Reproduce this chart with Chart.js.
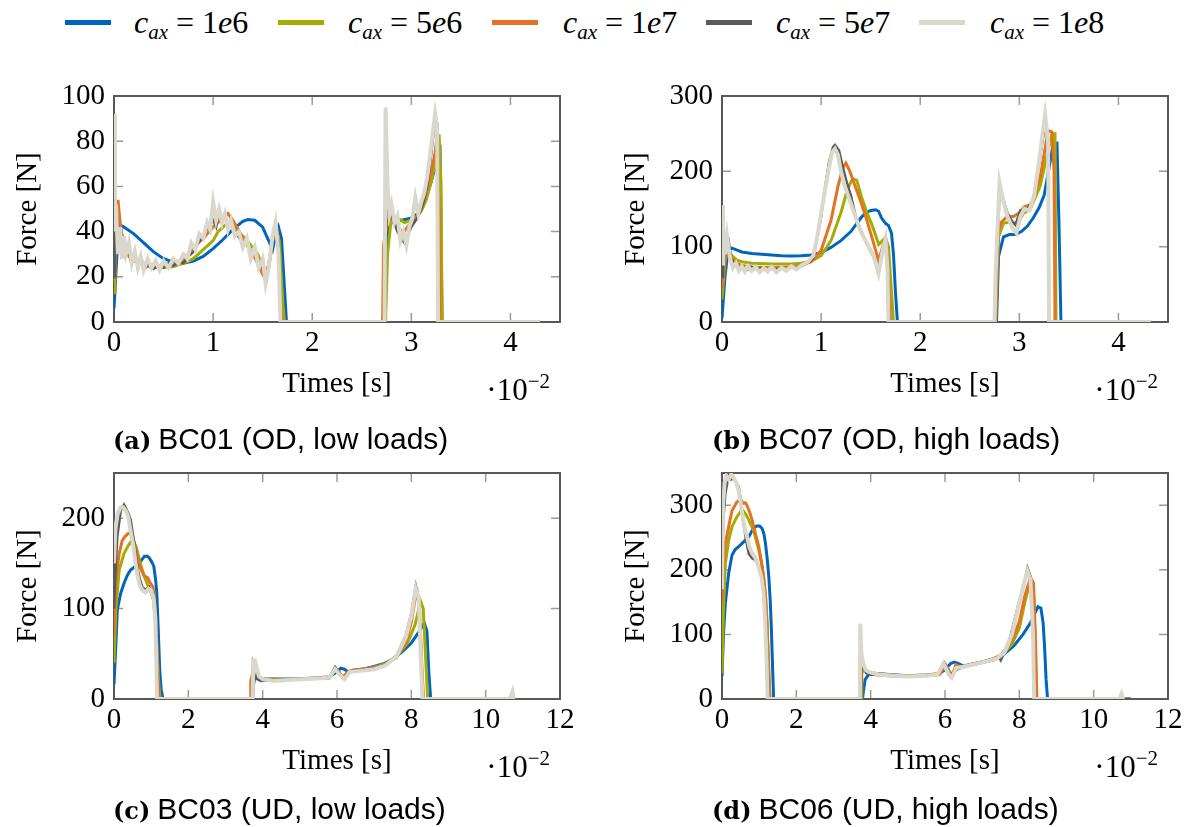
<!DOCTYPE html>
<html>
<head>
<meta charset="utf-8">
<script src="https://cdn.jsdelivr.net/npm/chart.js@4.4.0/dist/chart.umd.min.js"></script>
<style>
  body { margin: 0; width: 1189px; height: 827px; background: #fff; position: relative; overflow: hidden; }
  canvas { position: absolute; }
  .bar { position: absolute; top: 20px; width: 46px; height: 5px; }
  .key { position: absolute; top: 6px; font: italic 32px/32px "Liberation Serif", serif; color: #000; white-space: nowrap; }
  .key sub { font-size: 21px; vertical-align: -6px; line-height: 0; }
  .key .up { font-style: normal; }
  .cap { position: absolute; font: 30px/30px "Liberation Sans", sans-serif; color: #000; white-space: nowrap; }
  .cap b { font: bold 24px "DejaVu Serif", serif; margin-right: 7px; }
</style>
</head>
<body>

<div class="bar" style="left:65px;background:#0065BD"></div>
<div class="key" style="left:134px">c<sub>ax</sub> <span class="up">= 1</span>e<span class="up">6</span></div>
<div class="bar" style="left:278px;background:#A2AD00"></div>
<div class="key" style="left:348px">c<sub>ax</sub> <span class="up">= 5</span>e<span class="up">6</span></div>
<div class="bar" style="left:492px;background:#E37222"></div>
<div class="key" style="left:563px">c<sub>ax</sub> <span class="up">= 1</span>e<span class="up">7</span></div>
<div class="bar" style="left:706px;background:#5A5A5A"></div>
<div class="key" style="left:776px">c<sub>ax</sub> <span class="up">= 5</span>e<span class="up">7</span></div>
<div class="bar" style="left:919px;background:#DAD7CB"></div>
<div class="key" style="left:990px">c<sub>ax</sub> <span class="up">= 1</span>e<span class="up">8</span></div>

<canvas id="bc01" width="582" height="360" style="left:0px;top:60px"></canvas>
<canvas id="bc07" width="582" height="360" style="left:608px;top:60px"></canvas>
<canvas id="bc03" width="582" height="360" style="left:0px;top:437px"></canvas>
<canvas id="bc06" width="582" height="360" style="left:608px;top:437px"></canvas>

<div class="cap" style="left:113px;top:424px"><b>(a)</b>BC01 (OD, low loads)</div>
<div class="cap" style="left:712px;top:424px"><b>(b)</b>BC07 (OD, high loads)</div>
<div class="cap" style="left:113px;top:794px"><b>(c)</b>BC03 (UD, low loads)</div>
<div class="cap" style="left:712px;top:794px"><b>(d)</b>BC06 (UD, high loads)</div>

<script>
// time in 1e-2 s, force in N
const labels = ['c_ax = 1e6', 'c_ax = 5e6', 'c_ax = 1e7', 'c_ax = 5e7', 'c_ax = 1e8'];
const colors = ['#0065BD', '#A2AD00', '#E37222', '#5A5A5A', '#DAD7CB'];
const widths = [3, 3, 3, 2.5, 4];

// BC01 (OD, low loads)
const bc01_1e6 = [[0,6],[0.03,30],[0.06,43],[0.1,42],[0.2,39],[0.3,35],[0.4,31],[0.5,28],[0.6,26.5],[0.7,26],[0.8,27],[0.9,29],[1.0,32.5],[1.1,36.5],[1.2,41],[1.3,44.5],[1.35,45.3],[1.42,45],[1.5,42],[1.56,36],[1.6,32],[1.63,38],[1.66,42],[1.69,37],[1.72,15],[1.74,0],[2.7,0],[2.72,2],[2.76,40],[2.8,44],[2.85,44.5],[2.9,45],[2.95,45.5],[3.0,46],[3.05,47.5],[3.1,50],[3.15,55],[3.2,62],[3.25,70],[3.29,75],[3.3,40],[3.31,0],[4.3,0]];
const bc01_5e6 = [[0,13],[0.01,20],[0.02,52],[0.05,40],[0.08,38],[0.1,35],[0.15,30],[0.2,28],[0.3,26],[0.4,24.5],[0.5,24],[0.6,24.5],[0.7,26],[0.8,28],[0.9,32],[1.0,36],[1.05,40],[1.1,42],[1.15,44],[1.2,42],[1.3,38],[1.4,33],[1.45,30],[1.5,25],[1.53,22],[1.56,25],[1.6,36],[1.64,41],[1.67,35],[1.7,10],[1.72,0],[2.74,0],[2.76,30],[2.8,47],[2.85,46],[2.9,45],[2.93,44],[3.0,45],[3.05,46.5],[3.1,49],[3.15,54],[3.2,62],[3.25,72],[3.28,83],[3.3,60],[3.31,0],[4.3,0]];
const bc01_1e7 = [[0,20],[0.01,40],[0.04,54],[0.06,45],[0.08,38],[0.1,35],[0.15,29],[0.2,27],[0.3,25],[0.4,24],[0.5,24.5],[0.6,25],[0.7,27],[0.75,30],[0.8,33],[0.9,37],[1.0,42],[1.05,44],[1.1,46],[1.15,48],[1.2,45],[1.25,41],[1.3,37],[1.4,30],[1.45,26],[1.5,21],[1.53,19],[1.57,28],[1.6,37],[1.63,42],[1.66,36],[1.68,10],[1.7,0],[2.71,0],[2.72,34],[2.76,45],[2.8,46],[2.84,43],[2.88,41],[2.92,39.5],[2.96,42],[3.0,44],[3.05,46],[3.1,50],[3.15,57],[3.2,66],[3.24,75],[3.26,82],[3.28,50],[3.29,0],[4.3,0]];
const bc01_5e7 = [[0,20],[0.01,50],[0.02,35],[0.03,48],[0.05,38],[0.07,31],[0.09,36],[0.11,30],[0.14,33],[0.17,27],[0.2,29],[0.24,25],[0.28,27],[0.32,24],[0.36,26],[0.4,23.5],[0.45,25],[0.5,24],[0.55,26],[0.6,25],[0.65,27],[0.7,26],[0.75,29],[0.8,31],[0.85,35],[0.9,38],[0.95,42],[1.0,45],[1.03,42],[1.06,49],[1.09,44],[1.12,47],[1.15,43],[1.18,45],[1.21,40],[1.25,38],[1.3,35],[1.34,36],[1.38,30],[1.42,31],[1.46,26],[1.5,24],[1.53,19],[1.56,23],[1.6,35],[1.63,43],[1.66,33],[1.68,5],[1.69,0],[2.73,0],[2.75,50],[2.78,48],[2.82,45],[2.86,40],[2.9,37],[2.93,35],[2.96,38],[3.0,42],[3.03,44],[3.06,46],[3.1,50],[3.13,54],[3.16,60],[3.19,70],[3.22,82],[3.24,91],[3.26,88],[3.27,0],[4.3,0]];
const bc01_1e8 = [[0,92],[0.01,40],[0.02,52],[0.04,30],[0.06,42],[0.08,28],[0.1,38],[0.12,30],[0.15,35],[0.18,26],[0.21,31],[0.24,24],[0.27,29],[0.3,23],[0.34,28],[0.38,24],[0.42,27],[0.46,23],[0.5,27],[0.55,24],[0.6,28],[0.65,26],[0.7,30],[0.74,28],[0.78,35],[0.82,32],[0.86,39],[0.9,37],[0.94,44],[0.97,41],[1.0,53],[1.03,45],[1.06,50],[1.09,44],[1.12,48],[1.15,41],[1.18,45],[1.22,38],[1.26,40],[1.3,33],[1.34,37],[1.38,28],[1.42,33],[1.46,24],[1.5,28],[1.53,17],[1.56,24],[1.6,38],[1.63,44],[1.66,30],[1.68,0],[2.73,0],[2.74,95],[2.76,60],[2.78,48],[2.8,52],[2.83,44],[2.86,47],[2.89,36],[2.92,40],[2.95,34],[2.98,42],[3.01,46],[3.04,55],[3.07,48],[3.1,53],[3.13,57],[3.16,64],[3.19,74],[3.22,85],[3.24,92],[3.26,86],[3.27,0],[4.3,0]];

// BC07 (OD, high loads)
const bc07_1e6 = [[0,5],[0.03,60],[0.06,95],[0.1,98],[0.2,93],[0.3,91],[0.4,90],[0.5,89],[0.6,88],[0.7,87.5],[0.8,88],[0.9,89],[1.0,92],[1.1,99],[1.2,108],[1.3,120],[1.4,138],[1.45,145],[1.5,148],[1.55,149],[1.58,147],[1.61,138],[1.65,131],[1.68,128],[1.71,118],[1.73,90],[1.75,40],[1.77,0],[2.77,0],[2.79,87],[2.84,113],[2.9,116],[2.96,116],[3.02,120],[3.08,127],[3.14,138],[3.2,152],[3.25,168],[3.29,197],[3.34,235],[3.38,237],[3.4,130],[3.42,0],[4.33,0]];
const bc07_5e6 = [[0,30],[0.03,80],[0.06,97],[0.1,88],[0.15,82],[0.2,80],[0.3,78],[0.5,77],[0.7,77],[0.8,78],[0.9,81],[1.0,88],[1.1,108],[1.2,145],[1.27,178],[1.32,190],[1.36,188],[1.41,165],[1.46,146],[1.51,130],[1.55,115],[1.58,103],[1.62,108],[1.65,112],[1.68,100],[1.71,40],[1.73,0],[2.76,0],[2.79,113],[2.84,131],[2.91,133],[2.98,130],[3.04,144],[3.11,150],[3.21,180],[3.28,222],[3.33,250],[3.36,250],[3.37,0],[4.33,0]];
const bc07_1e7 = [[0,45],[0.03,85],[0.06,100],[0.1,84],[0.15,78],[0.2,75],[0.3,73],[0.5,72],[0.7,73],[0.8,75],[0.9,80],[1.0,95],[1.1,135],[1.17,180],[1.22,205],[1.25,211],[1.29,200],[1.35,178],[1.4,160],[1.45,140],[1.5,118],[1.55,95],[1.58,81],[1.62,100],[1.65,111],[1.67,95],[1.69,30],[1.7,0],[2.76,0],[2.79,122],[2.82,133],[2.88,140],[2.94,140],[3.0,145],[3.05,153],[3.12,156],[3.21,192],[3.26,230],[3.29,254],[3.33,252],[3.35,200],[3.36,0],[4.33,0]];
const bc07_5e7 = [[0,60],[0.01,100],[0.02,80],[0.03,110],[0.05,95],[0.07,105],[0.09,85],[0.12,78],[0.16,74],[0.2,72],[0.25,69],[0.3,73],[0.35,70],[0.4,72],[0.45,68],[0.5,71],[0.55,70],[0.6,72],[0.65,69],[0.7,73],[0.75,72],[0.8,74],[0.86,78],[0.92,84],[0.97,118],[1.0,140],[1.04,179],[1.08,212],[1.12,232],[1.14,235],[1.18,228],[1.22,205],[1.26,185],[1.3,168],[1.35,140],[1.4,122],[1.45,107],[1.5,93],[1.54,85],[1.57,68],[1.6,85],[1.65,111],[1.67,80],[1.69,0],[2.75,0],[2.76,43],[2.8,170],[2.84,162],[2.88,145],[2.92,135],[2.96,129],[3.01,148],[3.07,148],[3.14,162],[3.21,219],[3.26,263],[3.29,237],[3.3,0],[4.33,0]];
const bc07_1e8 = [[0,155],[0.01,75],[0.02,108],[0.03,90],[0.05,115],[0.07,95],[0.09,80],[0.11,72],[0.14,78],[0.17,68],[0.2,74],[0.23,67],[0.26,74],[0.3,68],[0.34,73],[0.38,66],[0.42,72],[0.46,67],[0.5,73],[0.55,66],[0.6,72],[0.65,68],[0.7,74],[0.75,70],[0.8,75],[0.86,79],[0.92,88],[0.96,112],[1.0,145],[1.04,175],[1.08,205],[1.11,225],[1.14,230],[1.17,222],[1.2,200],[1.24,180],[1.28,165],[1.32,150],[1.36,135],[1.4,120],[1.44,110],[1.48,100],[1.52,90],[1.56,75],[1.58,65],[1.62,95],[1.65,110],[1.67,70],[1.68,0],[2.75,0],[2.76,60],[2.8,185],[2.84,160],[2.88,140],[2.93,125],[2.97,118],[3.01,140],[3.05,150],[3.1,148],[3.15,168],[3.21,225],[3.26,275],[3.29,240],[3.3,0],[4.33,0]];

// BC03 (UD, low loads)
const bc03_1e6 = [[0,16],[0.05,60],[0.09,99],[0.18,117],[0.27,128],[0.36,137],[0.45,143],[0.55,146],[0.64,148],[0.73,153],[0.82,158],[0.9,158],[0.95,156],[1.01,152],[1.07,147],[1.12,132],[1.15,118],[1.18,88],[1.21,55],[1.23,32],[1.27,10],[1.32,0],[3.73,0],[3.75,15],[3.8,27],[3.9,24],[4.0,22],[4.5,22],[5.0,22.5],[5.5,23.5],[5.8,24.5],[6.0,30],[6.1,34],[6.2,33],[6.3,30],[6.45,32],[6.7,33],[7.0,36],[7.25,39],[7.5,44],[7.75,52],[8.0,62],[8.2,74],[8.35,84],[8.42,75],[8.47,30],[8.52,0],[10.75,0]];
const bc03_5e6 = [[0,40],[0.05,99],[0.14,143],[0.27,161],[0.36,168],[0.45,174],[0.52,175],[0.59,169],[0.66,158],[0.73,147],[0.82,135],[0.91,126],[0.98,120],[1.05,113],[1.1,95],[1.14,69],[1.18,35],[1.22,8],[1.25,0],[3.72,0],[3.74,20],[3.8,30],[3.9,24],[4.0,22],[4.5,21.5],[5.0,22],[5.5,23],[5.8,24],[5.95,34],[6.05,30],[6.15,24],[6.3,30],[6.5,32],[7.0,35],[7.3,39],[7.6,47],[7.9,62],[8.1,82],[8.25,108],[8.32,100],[8.38,50],[8.44,0],[10.75,0]];
const bc03_1e7 = [[0,70],[0.05,132],[0.14,161],[0.22,175],[0.3,180],[0.38,183],[0.44,184],[0.5,180],[0.55,172],[0.59,165],[0.66,152],[0.73,143],[0.82,136],[0.91,134],[0.98,128],[1.05,124],[1.1,105],[1.14,77],[1.18,30],[1.21,0],[3.66,0],[3.68,20],[3.75,32],[3.85,26],[4.0,22],[4.5,21],[5.0,22],[5.5,23],[5.8,24],[5.95,35],[6.05,30],[6.15,24],[6.3,30],[6.5,32],[7.0,35],[7.3,38],[7.6,46],[7.85,62],[8.0,85],[8.1,110],[8.16,118],[8.22,100],[8.28,40],[8.33,0],[10.75,0]];
const bc03_5e7 = [[0,100],[0.05,150],[0.09,180],[0.18,208],[0.27,215],[0.33,210],[0.4,204],[0.45,198],[0.5,184],[0.55,172],[0.6,155],[0.64,143],[0.7,132],[0.77,123],[0.85,121],[0.95,124],[1.02,115],[1.09,106],[1.13,80],[1.16,30],[1.18,0],[3.72,0],[3.74,37],[3.78,30],[3.85,22],[3.95,20],[4.2,21],[4.6,21],[5.0,22],[5.5,23],[5.8,23],[5.95,35],[6.05,30],[6.2,22],[6.35,31],[6.6,32],[7.0,34],[7.3,38],[7.6,48],[7.85,70],[8.0,95],[8.12,125],[8.2,110],[8.26,40],[8.3,0],[10.75,0]];
const bc03_1e8 = [[0,150],[0.04,190],[0.1,205],[0.18,212],[0.25,212],[0.32,208],[0.38,202],[0.45,185],[0.52,170],[0.58,150],[0.64,135],[0.7,125],[0.77,120],[0.85,118],[0.93,122],[1.0,120],[1.07,110],[1.11,90],[1.14,40],[1.16,0],[3.73,0],[3.75,45],[3.78,32],[3.82,38],[3.9,25],[4.0,22],[4.3,20],[4.7,21],[5.2,22],[5.6,23],[5.8,24],[5.95,33],[6.05,28],[6.2,22],[6.35,30],[6.6,31],[7.0,33],[7.3,37],[7.6,47],[7.85,68],[8.0,92],[8.12,122],[8.2,112],[8.26,40],[8.3,0],[10.65,0],[10.72,8],[10.75,0]];

// BC06 (UD, high loads)
const bc06_1e6 = [[0,35],[0.04,100],[0.09,148],[0.18,195],[0.27,223],[0.36,232],[0.45,236],[0.54,241],[0.63,246],[0.72,251],[0.81,261],[0.88,266],[0.94,268],[1.01,268],[1.08,264],[1.13,255],[1.17,241],[1.22,215],[1.26,189],[1.3,150],[1.33,107],[1.36,50],[1.39,0],[3.78,0],[3.8,10],[3.85,30],[3.95,38],[4.1,40],[4.5,38],[5.0,36],[5.5,37],[5.8,38],[6.0,45],[6.15,55],[6.25,57],[6.35,55],[6.5,51],[6.8,55],[7.1,59],[7.35,63],[7.6,70],[7.85,82],[8.1,100],[8.3,118],[8.42,133],[8.5,143],[8.58,141],[8.64,118],[8.68,80],[8.72,30],[8.76,0],[11.0,0]];
const bc06_5e6 = [[0,40],[0.04,140],[0.09,210],[0.18,246],[0.27,267],[0.4,282],[0.5,290],[0.56,292],[0.63,287],[0.72,277],[0.85,261],[0.99,231],[1.06,212],[1.12,189],[1.17,160],[1.21,122],[1.25,60],[1.28,15],[1.3,0],[3.74,0],[3.76,40],[3.82,50],[3.9,42],[4.1,40],[4.5,37],[5.0,36],[5.5,37],[5.85,40],[5.98,52],[6.08,47],[6.16,36],[6.3,45],[6.5,50],[6.9,55],[7.2,59],[7.5,66],[7.8,85],[8.0,110],[8.15,150],[8.28,180],[8.38,175],[8.43,80],[8.46,0],[11.0,0]];
const bc06_1e7 = [[0,150],[0.04,200],[0.09,241],[0.18,267],[0.27,292],[0.4,305],[0.5,309],[0.57,303],[0.63,304],[0.67,300],[0.74,290],[0.81,277],[0.9,256],[0.99,236],[1.06,212],[1.12,189],[1.17,160],[1.21,117],[1.25,50],[1.28,0],[3.73,0],[3.76,45],[3.82,50],[3.9,42],[4.1,40],[4.5,37],[5.0,35],[5.5,36],[5.85,38],[6.02,53],[6.12,42],[6.2,37],[6.29,53],[6.4,50],[6.6,52],[6.9,56],[7.2,60],[7.5,68],[7.8,90],[8.0,120],[8.15,160],[8.3,188],[8.38,180],[8.44,80],[8.47,0],[11.0,0]];
const bc06_5e7 = [[0,200],[0.04,280],[0.09,318],[0.18,346],[0.24,340],[0.31,341],[0.38,336],[0.45,328],[0.5,310],[0.55,285],[0.58,272],[0.65,245],[0.72,225],[0.81,218],[0.9,215],[0.99,205],[1.08,189],[1.14,160],[1.18,122],[1.22,60],[1.26,0],[3.73,0],[3.75,60],[3.8,48],[3.88,40],[4.0,38],[4.4,36],[4.8,35],[5.3,36],[5.8,38],[5.98,56],[6.14,35],[6.25,45],[6.4,48],[6.7,54],[7.0,57],[7.3,60],[7.45,65],[7.5,60],[7.6,72],[7.76,97],[7.96,143],[8.11,174],[8.22,203],[8.3,190],[8.38,100],[8.42,0],[11.0,0]];
const bc06_1e8 = [[0,170],[0.03,300],[0.07,335],[0.12,345],[0.18,340],[0.25,348],[0.32,342],[0.38,335],[0.44,325],[0.5,305],[0.56,280],[0.62,262],[0.68,250],[0.74,235],[0.82,225],[0.9,218],[0.98,205],[1.06,190],[1.12,165],[1.16,125],[1.2,60],[1.23,0],[3.71,0],[3.72,117],[3.75,70],[3.8,55],[3.86,45],[3.95,42],[4.2,38],[4.6,36],[5.0,35],[5.5,36],[5.8,38],[5.96,55],[6.1,38],[6.18,33],[6.3,48],[6.5,50],[6.8,54],[7.1,58],[7.4,63],[7.6,72],[7.8,100],[7.98,145],[8.12,178],[8.22,198],[8.3,185],[8.37,100],[8.4,0],[10.7,0],[10.75,8],[10.8,0]];

const axisFont = { family: '"Liberation Serif", serif', size: 29, lineHeight: 1.2 };

// pgfplots-like box: frame, inward ticks on all four sides, and the 10^-2 multiplier
const boxPlugin = {
  id: 'box',
  beforeDatasetsDraw(chart) {
    const { ctx, chartArea: a, scales: { x, y } } = chart;
    ctx.save();
    ctx.strokeStyle = '#9a9a9a';
    ctx.lineWidth = 1.5;
    ctx.beginPath();
    for (const t of x.ticks) {
      const px = x.getPixelForValue(t.value);
      ctx.moveTo(px, a.top); ctx.lineTo(px, a.top + 9);
      ctx.moveTo(px, a.bottom); ctx.lineTo(px, a.bottom - 9);
    }
    for (const t of y.ticks) {
      const py = y.getPixelForValue(t.value);
      ctx.moveTo(a.left, py); ctx.lineTo(a.left + 9, py);
      ctx.moveTo(a.right, py); ctx.lineTo(a.right - 9, py);
    }
    ctx.stroke();
    ctx.strokeStyle = '#585858';
    ctx.lineWidth = 2;
    ctx.strokeRect(a.left, a.top, a.width, a.height);
    ctx.restore();
  },
  afterDraw(chart) {
    const { ctx, chartArea: a } = chart;
    ctx.save();
    ctx.fillStyle = '#000';
    ctx.textAlign = 'right';
    ctx.textBaseline = 'alphabetic';
    ctx.font = '21px "Liberation Serif"';
    const sup = '\u22122';
    ctx.fillText(sup, a.right - 10, a.bottom + 66);
    const w = ctx.measureText(sup).width;
    ctx.font = '31px "Liberation Serif"';
    ctx.fillText('\u00b710', a.right - 10 - w, a.bottom + 78);
    ctx.restore();
  }
};

function makePanel(id, series, xMax, xStep, yMax, yStep) {
  new Chart(document.getElementById(id), {
    type: 'line',
    data: {
      datasets: series.map((d, i) => ({
        label: labels[i],
        data: d,
        borderColor: colors[i],
        borderWidth: widths[i],
        order: series.length - i,   // higher stiffness drawn on top
        pointRadius: 0,
        tension: 0,
        fill: false
      }))
    },
    options: {
      responsive: false,
      animation: false,
      layout: { padding: { top: 36, right: 22, left: 0, bottom: 0 } },
      plugins: { legend: { display: false }, tooltip: { enabled: false } },
      scales: {
        x: {
          type: 'linear', min: 0, max: xMax,
          ticks: { stepSize: xStep, includeBounds: false, padding: 4, color: '#000', font: axisFont, maxRotation: 0 },
          grid: { display: false, drawTicks: false },
          border: { display: false },
          title: { display: true, text: 'Times [s]', color: '#000', font: axisFont, padding: { top: 0, bottom: 18 } },
          afterFit: s => { s.height = 98; }
        },
        y: {
          type: 'linear', min: 0, max: yMax,
          ticks: { stepSize: yStep, includeBounds: false, padding: 9, color: '#000', font: axisFont },
          grid: { display: false, drawTicks: false },
          border: { display: false },
          title: { display: true, text: 'Force [N]', color: '#000', font: axisFont, padding: { top: 11, bottom: 0 } },
          afterFit: s => { s.width = 114; }
        }
      }
    },
    plugins: [boxPlugin]
  });
}

makePanel('bc01', [bc01_1e6, bc01_5e6, bc01_1e7, bc01_5e7, bc01_1e8], 4.5, 1, 100, 20);
makePanel('bc07', [bc07_1e6, bc07_5e6, bc07_1e7, bc07_5e7, bc07_1e8], 4.5, 1, 300, 100);
makePanel('bc03', [bc03_1e6, bc03_5e6, bc03_1e7, bc03_5e7, bc03_1e8], 12, 2, 250, 100);
makePanel('bc06', [bc06_1e6, bc06_5e6, bc06_1e7, bc06_5e7, bc06_1e8], 12, 2, 350, 100);
</script>
</body>
</html>
